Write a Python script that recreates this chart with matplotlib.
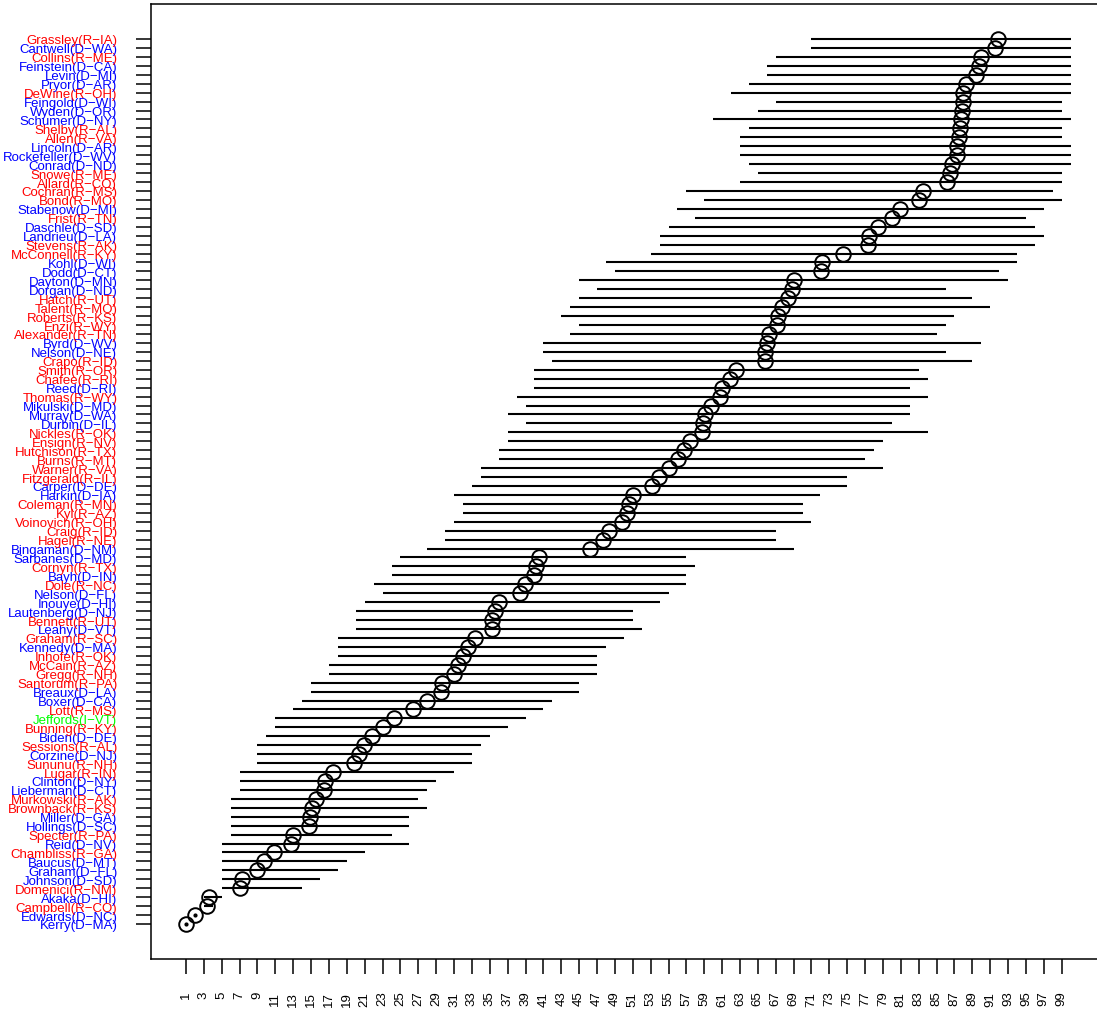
import matplotlib
matplotlib.use("Agg")
import matplotlib.pyplot as plt
import numpy as np

plt.rcParams['font.family'] = ['Liberation Sans', 'DejaVu Sans']

# Senators, listed from bottom (rank 1) to top
names = [
    "Kerry(D-MA)", "Edwards(D-NC)", "Campbell(R-CO)", "Akaka(D-HI)", "Domenici(R-NM)",
    "Johnson(D-SD)", "Graham(D-FL)", "Baucus(D-MT)", "Chambliss(R-GA)", "Reid(D-NV)",
    "Specter(R-PA)", "Hollings(D-SC)", "Miller(D-GA)", "Brownback(R-KS)", "Murkowski(R-AK)",
    "Lieberman(D-CT)", "Clinton(D-NY)", "Lugar(R-IN)", "Sununu(R-NH)", "Corzine(D-NJ)",
    "Sessions(R-AL)", "Biden(D-DE)", "Bunning(R-KY)", "Jeffords(I-VT)", "Lott(R-MS)",
    "Boxer(D-CA)", "Breaux(D-LA)", "Santorum(R-PA)", "Gregg(R-NH)", "McCain(R-AZ)",
    "Inhofe(R-OK)", "Kennedy(D-MA)", "Graham(R-SC)", "Leahy(D-VT)", "Bennett(R-UT)",
    "Lautenberg(D-NJ)", "Inouye(D-HI)", "Nelson(D-FL)", "Dole(R-NC)", "Bayh(D-IN)",
    "Cornyn(R-TX)", "Sarbanes(D-MD)", "Bingaman(D-NM)", "Hagel(R-NE)", "Craig(R-ID)",
    "Voinovich(R-OH)", "Kyl(R-AZ)", "Coleman(R-MN)", "Harkin(D-IA)", "Carper(D-DE)",
    "Fitzgerald(R-IL)", "Warner(R-VA)", "Burns(R-MT)", "Hutchison(R-TX)", "Ensign(R-NV)",
    "Nickles(R-OK)", "Durbin(D-IL)", "Murray(D-WA)", "Mikulski(D-MD)", "Thomas(R-WY)",
    "Reed(D-RI)", "Chafee(R-RI)", "Smith(R-OR)", "Crapo(R-ID)", "Nelson(D-NE)",
    "Byrd(D-WV)", "Alexander(R-TN)", "Enzi(R-WY)", "Roberts(R-KS)", "Talent(R-MO)",
    "Hatch(R-UT)", "Dorgan(D-ND)", "Dayton(D-MN)", "Dodd(D-CT)", "Kohl(D-WI)",
    "McConnell(R-KY)", "Stevens(R-AK)", "Landrieu(D-LA)", "Daschle(D-SD)", "Frist(R-TN)",
    "Stabenow(D-MI)", "Bond(R-MO)", "Cochran(R-MS)", "Allard(R-CO)", "Snowe(R-ME)",
    "Conrad(D-ND)", "Rockefeller(D-WV)", "Lincoln(D-AR)", "Allen(R-VA)", "Shelby(R-AL)",
    "Schumer(D-NY)", "Wyden(D-OR)", "Feingold(D-WI)", "DeWine(R-OH)", "Pryor(D-AR)",
    "Levin(D-MI)", "Feinstein(D-CA)", "Collins(R-ME)", "Cantwell(D-WA)", "Grassley(R-IA)",
]

mid_rank = [
    1.0, 2.0, 3.4, 3.6, 7.0, 7.3, 9.0, 9.7, 10.9, 12.8,
    13.0, 14.8, 14.9, 15.1, 15.6, 16.4, 16.6, 17.4, 19.8, 20.4,
    20.9, 21.8, 23.0, 24.3, 26.4, 28.0, 29.5, 29.6, 31.0, 31.4,
    32.0, 32.6, 33.3, 35.3, 35.3, 35.6, 36.0, 38.4, 38.9, 40.0,
    40.15, 40.5, 46.2, 47.7, 48.3, 49.8, 50.3, 50.6, 51.0, 53.2,
    53.95, 55.1, 56.1, 56.7, 57.4, 58.8, 58.9, 59.06, 59.8, 60.8,
    61.0, 61.9, 62.6, 65.8, 65.8, 66.07, 66.2, 67.1, 67.3, 67.7,
    68.4, 68.8, 69.0, 72.04, 72.15, 74.5, 77.3, 77.4, 78.4, 80.0,
    80.9, 83.0, 83.5, 86.2, 86.5, 86.7, 87.25, 87.3, 87.5, 87.6,
    87.7, 87.85, 88.0, 88.0, 88.3, 89.4, 89.75, 90.0, 91.5, 91.9,
]

low_rank = [
    1, 2, 3, 3, 5, 5, 5, 5, 5, 5,
    6, 6, 6, 6, 6, 7, 7, 7, 9, 9,
    9, 10, 11, 11, 13, 14, 15, 15, 17, 17,
    18, 18, 18, 20, 20, 20, 21, 23, 22, 24,
    24, 25, 28, 30, 30, 31, 32, 32, 31, 33,
    34, 34, 36, 36, 37, 37, 39, 37, 39, 38,
    40, 40, 40, 42, 41, 41, 44, 45, 43, 44,
    45, 47, 45, 49, 48, 53, 54, 54, 55, 58,
    56, 59, 57, 63, 65, 64, 63, 63, 63, 64,
    60, 65, 67, 62, 64, 66, 66, 67, 71, 71,
]

high_rank = [
    1, 2, 4, 5, 14, 16, 18, 19, 21, 26,
    24, 26, 26, 28, 27, 28, 29, 31, 33, 33,
    34, 35, 37, 39, 41, 42, 45, 45, 47, 47,
    47, 48, 50, 52, 51, 51, 54, 55, 57, 57,
    58, 57, 69, 67, 67, 71, 70, 70, 72, 75,
    75, 79, 77, 78, 79, 84, 80, 82, 82, 84,
    82, 84, 83, 89, 86, 90, 85, 86, 87, 91,
    89, 86, 93, 92, 94, 94, 96, 97, 96, 95,
    97, 99, 98, 99, 99, 100, 100, 100, 99, 99,
    100, 99, 99, 100, 100, 100, 100, 100, 100, 100,
]

x_ticks = list(range(1, 100, 2))
x_labels = [str(v) for v in x_ticks]

party_colors = {"R": "#FF0000", "D": "#0000FF", "I": "#00FF00"}

W, H = 1097, 1012
fig = plt.figure(figsize=(W / 100, H / 100), dpi=100)
left_px, right_px, top_px, bottom_px = 150.6, 1106.0, 4.6, 960.4
ax = fig.add_axes([left_px / W, (H - bottom_px) / H,
                   (right_px - left_px) / W, (bottom_px - top_px) / H])

pos = np.arange(1, len(names) + 1)
lo = np.array(low_rank, dtype=float)
hi = np.array(high_rank, dtype=float)
md = np.array(mid_rank, dtype=float)

ax.hlines(pos, lo, hi, color="black", linewidth=1.5, capstyle="butt")
zero = lo == hi
ax.plot(lo[zero], pos[zero], linestyle="none", marker="o", markersize=2.0,
        color="black")
ax.plot(md, pos, linestyle="none", marker="o", markersize=10.5,
        markerfacecolor="none", markeredgecolor="black", markeredgewidth=1.4)

ax.set_xlim(-2.96, 103.96)
ax.set_ylim(-2.96, 103.96)

# R renders the hyphen in these labels as a minus sign
display_names = [n.replace("-", "\u2212") for n in names]
ax.set_yticks(pos)
ax.set_yticklabels(display_names, fontsize=9.5)
for lab, nm in zip(ax.get_yticklabels(), names):
    code = nm.split("(")[1][0]
    lab.set_color(party_colors[code])

ax.set_xticks(x_ticks)
ax.set_xticklabels(x_labels, rotation=90, fontsize=9.5, va="top", ha="center")

ax.tick_params(axis="y", length=11, width=1.1, pad=13)
ax.tick_params(axis="x", length=11, width=1.1, pad=11.5)
for sp in ax.spines.values():
    sp.set_linewidth(1.1)
    sp.set_color("black")

fig.savefig("out.png", dpi=100)
